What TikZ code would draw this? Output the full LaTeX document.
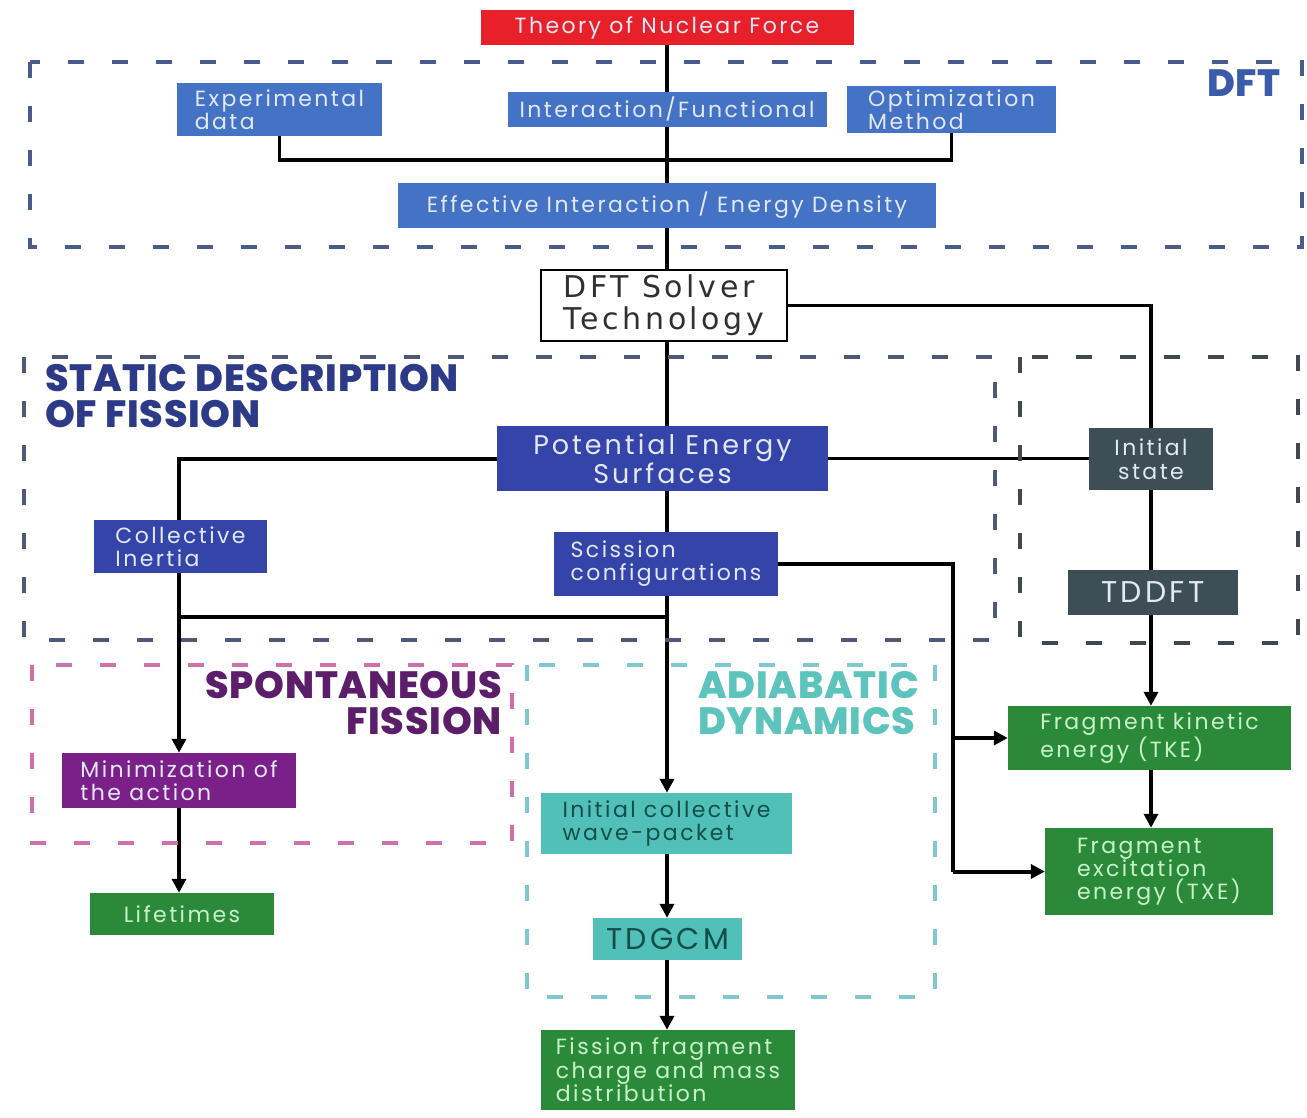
\documentclass[tikz,border=0pt]{standalone}
\usepackage{fontspec}
\setmainfont{Poppins}[LetterSpace=11]
\newfontfamily\labfont{Poppins}[LetterSpace=2, BoldFont=* ExtraBold]
\newfontfamily\dvfont{DejaVu Sans}[LetterSpace=12]
\usetikzlibrary{arrows.meta,backgrounds}
\definecolor{cred}{HTML}{E8202A}
\definecolor{cblue}{HTML}{4472C4}
\definecolor{cindigo}{HTML}{3444A8}
\definecolor{cslate}{HTML}{3D4E55}
\definecolor{cpurple}{HTML}{7A2088}
\definecolor{cgreen}{HTML}{2A8A3A}
\definecolor{cteal}{HTML}{50C0B8}
\definecolor{tlight}{HTML}{E2E8F8}
\definecolor{tgreen}{HTML}{C8F2C8}
\definecolor{tteal}{HTML}{124F4A}
\definecolor{tsolver}{HTML}{303030}
\definecolor{dftdash}{HTML}{4A5A8A}
\definecolor{statdash}{HTML}{505878}
\definecolor{rdash}{HTML}{404850}
\definecolor{pdash}{HTML}{D070A8}
\definecolor{tdash}{HTML}{80C8D0}
\definecolor{ldft}{HTML}{3A5CA8}
\definecolor{lstat}{HTML}{2C3A88}
\definecolor{lspont}{HTML}{5C1E6A}
\definecolor{ladiab}{HTML}{5CC4BC}
\begin{document}
\begin{tikzpicture}[x=1pt,y=-1pt,
  bx/.style={rectangle, inner sep=0pt, align=left, font=\fontsize{22}{23}\selectfont},
  sz/.style 2 args={minimum width=#1pt, minimum height=#2pt},
  ln/.style={draw=black, line width=4pt},
  arr/.style={ln, -{Triangle[length=14pt,width=14pt]}},
  dbox/.style={line width=4pt, dash pattern=on 16pt off 28pt},
  lab/.style={inner sep=0pt, font=\labfont\bfseries\fontsize{38}{36}\selectfont}
]
\useasboundingbox (0,0) rectangle (1307,1118);
% dashed regions
\draw[dbox, draw=dftdash] (30,62) rectangle (1302,247);
\draw[dbox, draw=statdash] (24,357) rectangle (995,640);
\draw[dbox, draw=rdash] (1020,357) rectangle (1298,643);
\draw[dbox, draw=pdash] (32,665) rectangle (512,843);
\draw[dbox, draw=tdash] (527,665) rectangle (935,997);
% region labels
\node[lab, text=ldft, anchor=north east] (ldftn) at (1281,70) {DFT};
\node[lab, text=lstat, anchor=north west, align=left] (lstatn) at (45,364) {STATIC DESCRIPTION\\OF FISSION};
\node[lab, text=lspont, anchor=north east, align=right] (lspontn) at (502,671) {SPONTANEOUS\\FISSION};
\node[lab, text=ladiab, anchor=north west, align=left] (ladiabn) at (698,671) {ADIABATIC\\DYNAMICS};
% boxes
\node[bx, fill=cred, text=tlight, sz={373}{35}] (theory) at (667,27.5) {Theory of Nuclear Force};
\node[bx, fill=cblue, text=tlight, sz={205}{53}] (exp) at (279.5,109.5) {Experimental\\data};
\node[bx, fill=cblue, text=tlight, sz={319}{35}] (inter) at (667,109.5) {Interaction/Functional};
\node[bx, fill=cblue, text=tlight, sz={209}{47}] (optim) at (951.5,109.5) {Optimization\\Method};
\node[bx, fill=cblue, text=tlight, sz={538}{45}] (eff) at (667,205.5) {Effective Interaction / Energy Density};
\node[bx, fill=white, draw=black, line width=2pt, text=tsolver, sz={246}{71}, font=\dvfont\fontsize{30}{32}\selectfont] (solver) at (664,305.5) {DFT Solver\\Technology};
\node[bx, fill=cindigo, text=tlight, sz={331}{65}, align=center, font=\fontsize{27}{29}\selectfont] (pes) at (662.5,458.5) {Potential Energy\\Surfaces};
\node[bx, fill=cslate, text=tlight, sz={124}{62}, align=center, font=\fontsize{22}{24}\selectfont] (init) at (1151,459) {Initial\\state};
\node[bx, fill=cindigo, text=tlight, sz={173}{53}] (coll) at (180.5,546.5) {Collective\\Inertia};
\node[bx, fill=cindigo, text=tlight, sz={224}{64}] (sciss) at (666,564) {Scission\\configurations};
\node[bx, fill=cslate, text=tlight, sz={170}{45}, font=\fontsize{30}{30}\selectfont] (tddft) at (1153,592.5) {TDDFT};
\node[bx, fill=cpurple, text=tlight, sz={234}{55}] (mini) at (179,780.5) {Minimization of\\the action};
\node[bx, fill=cgreen, text=tgreen, sz={184}{42}] (life) at (182,914) {Lifetimes};
\node[bx, fill=cteal, text=tteal, sz={251}{61}] (wave) at (666.5,823.5) {Initial collective\\wave-packet};
\node[bx, fill=cteal, text=tteal, sz={149}{42}, font=\fontsize{30}{30}\selectfont] (tdgcm) at (667.5,939) {TDGCM};
\node[bx, fill=cgreen, text=tgreen, sz={254}{80}, font=\fontsize{22}{23.5}\selectfont] (ffrag) at (668,1070) {Fission fragment\\charge and mass\\distribution};
\node[bx, fill=cgreen, text=tgreen, sz={283}{64}] (tke) at (1149.5,738) {Fragment kinetic\\energy (TKE)};
\node[bx, fill=cgreen, text=tgreen, sz={228}{87}] (txe) at (1159,871.5) {Fragment\\excitation\\energy (TXE)};
% connectors
\begin{pgfonlayer}{background}
\coordinate (j1) at (667,160);
\coordinate (j2) at (667,617);
\coordinate (j3) at (953,738);
\draw[ln] (theory.south) -- (theory.south |- inter.north);
\draw[ln] (inter.south) -- (inter.south |- eff.north);
\draw[ln, line width=3.5pt] (exp.south) |- (j1) -| (optim.south);
\draw[ln] (eff.south) -- (eff.south |- solver.north);
\draw[ln] (solver.south -| eff.south) -- (eff.south |- pes.north);
\draw[ln] (pes.south -| eff.south) -- (eff.south |- sciss.north);
\draw[arr] (sciss.south -| eff.south) -- (eff.south |- wave.north);
\draw[arr] (wave.south -| eff.south) -- (eff.south |- tdgcm.north);
\draw[arr] (tdgcm.south -| eff.south) -- (eff.south |- ffrag.north);
\draw[ln, line width=3.5pt] (solver.east) -| (init.north);
\draw[ln, line width=3.5pt] (pes.east) -- (init.west |- pes.east);
\draw[arr] (pes.west) -| (mini.north);
\draw[ln] (j2) -- (j2 -| mini.north);
\draw[ln] (sciss.east) -| (j3 |- txe.west);
\draw[arr] (j3 |- txe.west) -- (txe.west);
\draw[arr] (j3) -- (j3 -| tke.west);
\draw[ln, line width=3.5pt] (init.south) -- (init.south |- tddft.north);
\draw[arr] (tddft.south -| init.south) -- (init.south |- tke.north);
\draw[arr] (tke.south -| init.south) -- (init.south |- txe.north);
\draw[arr] (mini.south) -- (mini.south |- life.north);
\end{pgfonlayer}
\end{tikzpicture}
\end{document}
